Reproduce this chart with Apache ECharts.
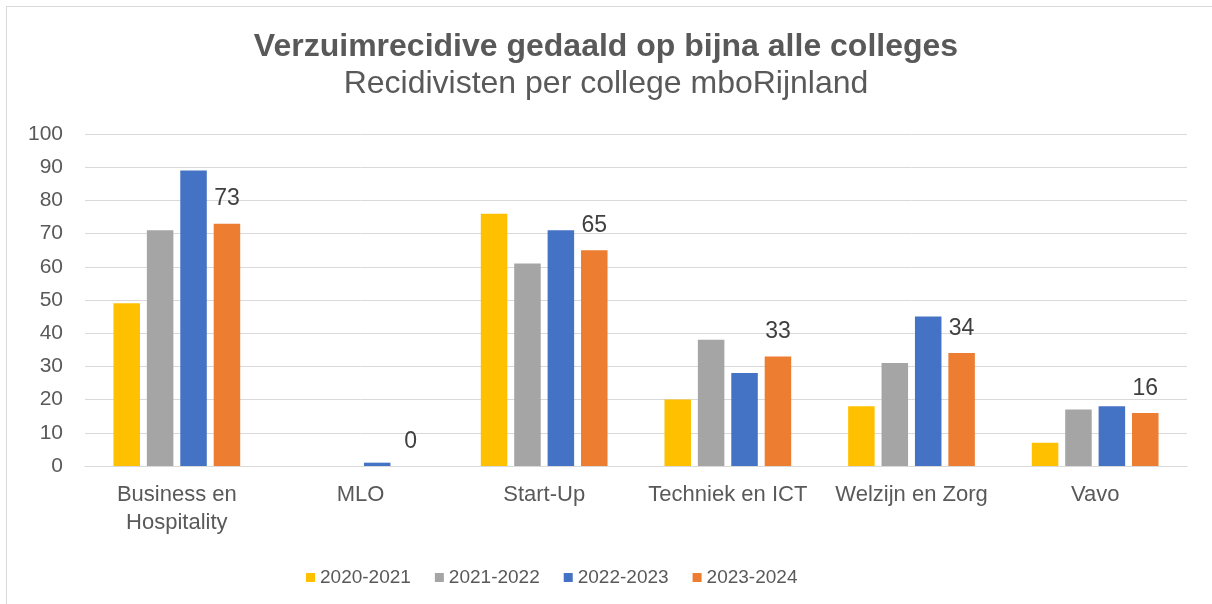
<!DOCTYPE html>
<html>
<head>
<meta charset="utf-8">
<script src="https://cdn.jsdelivr.net/npm/echarts@6/dist/echarts.min.js"></script>
<style>
  html, body { margin: 0; padding: 0; background: #fff; }
  #frame {
    position: absolute; left: 6px; top: 6px; width: 1300px; height: 700px;
    border-left: 1px solid #d9d9d9; border-top: 1px solid #d9d9d9;
  }
  #chart { position: absolute; left: 0; top: 0; width: 1212px; height: 604px; }
</style>
</head>
<body>
<div id="frame"></div>
<div id="chart"></div>
<script>
  var colleges = ['Business en\nHospitality', 'MLO', 'Start-Up', 'Techniek en ICT', 'Welzijn en Zorg', 'Vavo'];
  var years = ['2020-2021', '2021-2022', '2022-2023', '2023-2024'];
  var y2020 = [49, 0, 76, 20, 18, 7];
  var y2021 = [71, 0, 61, 38, 31, 17];
  var y2022 = [89, 1, 71, 28, 45, 18];
  var y2023 = [73, 0, 65, 33, 34, 16];
  var colors = ['#FFC000', '#A5A5A5', '#4472C4', '#ED7D31'];

  var myChart = echarts.init(document.getElementById('chart'));
  var font = 'Liberation Sans, Arial, sans-serif';

  function bar(name, data, color, showLabel) {
    return {
      name: name,
      type: 'bar',
      data: data,
      barGap: '26%',
      barCategoryGap: '31%',
      itemStyle: { color: color },
      label: {
        show: showLabel,
        position: 'top',
        distance: 13,
        color: '#404040',
        fontSize: 23,
        fontFamily: font
      }
    };
  }

  var option = {
    animation: false,
    title: [
      {
        text: 'Verzuimrecidive gedaald op bijna alle colleges',
        left: 'center',
        top: 26,
        textStyle: { fontSize: 32, fontWeight: 'bold', color: '#595959', fontFamily: font }
      },
      {
        text: 'Recidivisten per college mboRijnland',
        left: 'center',
        top: 63,
        textStyle: { fontSize: 32, fontWeight: 'normal', color: '#595959', fontFamily: font }
      }
    ],
    grid: { left: 85, right: 25, top: 134, bottom: 138 },
    legend: {
      data: years,
      left: 301,
      top: 563,
      itemWidth: 9,
      itemHeight: 9,
      itemGap: 24,
      icon: 'rect',
      textStyle: { fontSize: 19, color: '#595959', fontFamily: font }
    },
    xAxis: {
      type: 'category',
      data: colleges,
      axisTick: { show: false },
      axisLine: { lineStyle: { color: '#d9d9d9', width: 1 } },
      axisLabel: {
        interval: 0,
        margin: 15,
        fontSize: 22,
        lineHeight: 28,
        color: '#595959',
        fontFamily: font
      }
    },
    yAxis: {
      type: 'value',
      min: 0,
      max: 100,
      interval: 10,
      axisLine: { show: false },
      axisTick: { show: false },
      splitLine: { lineStyle: { color: '#d9d9d9', width: 1 } },
      axisLabel: { fontSize: 21, color: '#595959', margin: 22, fontFamily: font }
    },
    series: [
      bar(years[0], y2020, colors[0], false),
      bar(years[1], y2021, colors[1], false),
      bar(years[2], y2022, colors[2], false),
      bar(years[3], y2023, colors[3], true)
    ]
  };
  myChart.setOption(option);
</script>
</body>
</html>
